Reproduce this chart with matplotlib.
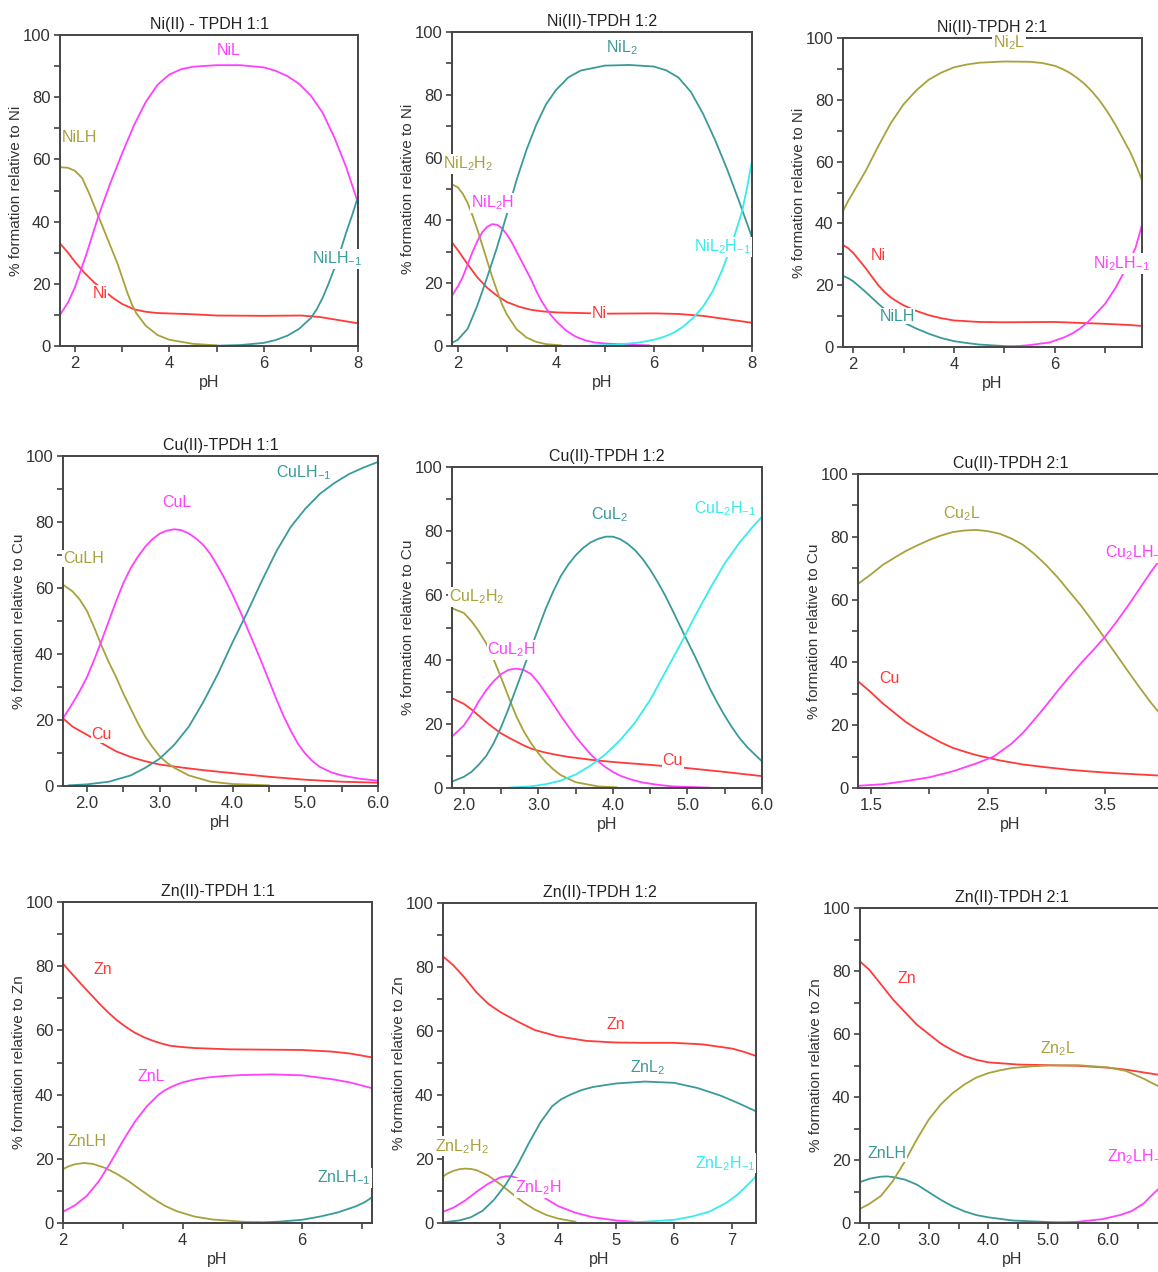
import matplotlib
matplotlib.use("Agg")
import matplotlib.pyplot as plt
from matplotlib.ticker import FixedLocator, FormatStrFormatter

plt.rcParams["font.family"] = ["Liberation Sans", "DejaVu Sans"]
plt.rcParams["mathtext.fontset"] = "custom"
plt.rcParams["mathtext.rm"] = "Liberation Sans"
plt.rcParams["mathtext.it"] = "Liberation Sans:italic"
plt.rcParams["mathtext.bf"] = "Liberation Sans:bold"

RED = "#ff3a3a"
MAGENTA = "#ff40ff"
OLIVE = "#a8a23c"
TEAL = "#3a9a9a"
CYAN = "#36ecec"

# ---- Ni(II)-TPDH 1:1 ----
NI11_NI_PH = [1.68, 1.85, 2.0, 2.2, 2.4, 2.6, 2.8, 3.0, 3.25, 3.5, 3.75, 4.5, 5.0, 6.0, 6.8, 7.2, 7.6, 8.0]
NI11_NI = [33, 30, 27, 23.5, 20.5, 18, 15.5, 13.5, 11.8, 11, 10.6, 10.2, 9.8, 9.7, 9.8, 9.3, 8.3, 7.3]
NI11_NIL_PH = [1.68, 1.85, 2.0, 2.25, 2.5, 2.75, 3.0, 3.25, 3.5, 3.75, 4.0, 4.25, 4.5, 5.0, 5.5, 6.0,
               6.25, 6.5, 6.75, 7.0, 7.25, 7.5, 7.75, 8.0]
NI11_NIL = [10, 14, 19, 30, 42, 52.5, 62, 71, 78.5, 84, 87.3, 89, 89.8, 90.3, 90.3, 89.6,
            88.5, 86.8, 84.3, 80.5, 75, 67, 57.5, 46]
NI11_NILH_PH = [1.68, 1.85, 2.0, 2.15, 2.3, 2.5, 2.7, 2.9, 3.0, 3.1, 3.2, 3.3, 3.5, 3.75, 4.0, 4.5, 5.0]
NI11_NILH = [57.5, 57.3, 56.3, 54, 49, 41.5, 34, 26.5, 22, 17.5, 13.5, 10.5, 6.5, 3.5, 2.0, 0.7, 0.2]
NI11_NILHM_PH = [4.9, 5.5, 6.0, 6.25, 6.5, 6.75, 7.0, 7.125, 7.25, 7.375, 7.5, 7.625, 7.75, 7.875, 8.0]
NI11_NILHM = [0.05, 0.3, 1.0, 1.9, 3.3, 5.5, 9, 11.8, 15.5, 20, 25, 30.5, 36.5, 42, 48]

# ---- Ni(II)-TPDH 1:2 ----
NI12_NI_PH = [1.88, 2.0, 2.2, 2.4, 2.6, 2.8, 3.0, 3.25, 3.5, 3.75, 4.0, 5.0, 6.0, 6.5, 7.0, 7.5, 8.0]
NI12_NI = [33, 30.5, 26, 21.8, 18.5, 16, 14, 12.5, 11.5, 11, 10.7, 10.3, 10.4, 10.2, 9.6, 8.5, 7.4]
NI12_NIL2_PH = [1.88, 2.0, 2.2, 2.4, 2.6, 2.8, 3.0, 3.2, 3.4, 3.6, 3.8, 4.0, 4.25, 4.5, 5.0, 5.5,
                6.0, 6.25, 6.5, 6.75, 7.0, 7.25, 7.5, 7.75, 8.0]
NI12_NIL2 = [1, 2, 5.5, 13, 22, 31.5, 42, 53, 62.5, 70.5, 77, 81.5, 85.5, 87.7, 89.3, 89.5,
             89, 87.8, 85.5, 81, 74, 65.5, 56, 45.5, 34.6]
NI12_NIL2H2_PH = [1.88, 2.0, 2.1, 2.2, 2.3, 2.4, 2.5, 2.6, 2.7, 2.8, 2.9, 3.0, 3.2, 3.4, 3.6, 3.8, 4.1]
NI12_NIL2H2 = [51.5, 50.5, 48.5, 45.5, 41.5, 37, 32, 27, 22, 17.5, 13.3, 10, 5.3, 2.7, 1.3, 0.6, 0.2]
NI12_NIL2H_PH = [1.88, 2.0, 2.1, 2.2, 2.3, 2.4, 2.5, 2.6, 2.7, 2.8, 2.9, 3.0, 3.1, 3.2, 3.3, 3.4,
                 3.5, 3.6, 3.7, 3.8, 3.9, 4.0, 4.2, 4.4, 4.6, 4.8, 5.0, 5.5, 5.9]
NI12_NIL2H = [16, 19, 22, 26, 30, 33.5, 36.3, 38, 38.8, 38.6, 37.5, 35.5, 33, 30, 27, 24,
              21, 17.5, 14.5, 12, 9.8, 8, 5, 3, 1.8, 1.1, 0.8, 0.4, 0.2]
NI12_NIL2HM_PH = [4.7, 5.2, 5.7, 6.0, 6.2, 6.4, 6.6, 6.8, 7.0, 7.2, 7.4, 7.6, 7.8, 7.9, 8.0]
NI12_NIL2HM = [0.1, 0.4, 1.1, 2, 2.9, 4.2, 6.2, 9, 12.5, 17.5, 24.5, 33, 43, 50.5, 59]

# ---- Ni(II)-TPDH 2:1 ----
NI21_NI_PH = [1.8, 1.9, 2.0, 2.125, 2.25, 2.375, 2.5, 2.625, 2.75, 2.875, 3.0, 3.25, 3.5, 3.75, 4.0,
              4.5, 5.0, 6.0, 6.5, 7.0, 7.5, 7.73]
NI21_NI = [33, 32, 30.5, 28, 25.5, 22.7, 20, 17.8, 16, 14.7, 13.5, 11.7, 10.3, 9.3, 8.6,
           8.1, 8.0, 8.1, 7.8, 7.5, 7.1, 6.8]
NI21_NI2L_PH = [1.8, 1.9, 2.0, 2.125, 2.25, 2.375, 2.5, 2.75, 3.0, 3.25, 3.5, 3.75, 4.0, 4.25, 4.5,
                5.0, 5.5, 5.75, 6.0, 6.15, 6.3, 6.45, 6.6, 6.75, 6.9, 7.05, 7.2, 7.35, 7.5, 7.62, 7.73]
NI21_NI2L = [44, 47.2, 50, 53.5, 57, 61, 65, 72.5, 78.5, 83, 86.5, 88.8, 90.5, 91.4, 92,
             92.4, 92.3, 91.9, 91, 90, 88.7, 87, 85, 82.5, 79.5, 76, 72, 67.5, 63, 58.5, 54]
NI21_NILH_PH = [1.8, 1.9, 2.0, 2.25, 2.5, 2.75, 3.0, 3.25, 3.5, 3.75, 4.0, 4.25, 4.5, 5.0, 5.3]
NI21_NILH = [23, 22.3, 21.3, 17.8, 14, 10.5, 8, 6, 4.3, 2.9, 1.9, 1.3, 0.8, 0.3, 0.1]
NI21_NI2LHM_PH = [5.1, 5.5, 5.9, 6.2, 6.35, 6.5, 6.65, 6.8, 7.0, 7.2, 7.4, 7.6, 7.73]
NI21_NI2LHM = [0.1, 0.6, 1.5, 3.2, 4.4, 6, 8, 10.5, 14, 19, 25, 32, 39.5]

# ---- Cu(II)-TPDH 1:1 ----
CU11_CU_PH = [1.67, 1.8, 2.0, 2.2, 2.4, 2.6, 2.8, 3.0, 3.3, 3.6, 4.0, 4.5, 5.0, 5.5, 6.0]
CU11_CU = [20.5, 18, 15.5, 13, 10.5, 8.8, 7.5, 6.5, 5.6, 4.8, 3.9, 2.8, 1.9, 1.3, 1.0]
CU11_CUL_PH = [1.67, 1.8, 1.9, 2.0, 2.1, 2.2, 2.3, 2.4, 2.5, 2.6, 2.7, 2.8, 2.9, 3.0, 3.1, 3.2, 3.3,
               3.4, 3.5, 3.6, 3.7, 3.8, 3.9, 4.0, 4.1, 4.2, 4.3, 4.4, 4.5, 4.6, 4.7, 4.8, 4.9, 5.0,
               5.1, 5.2, 5.35, 5.5, 5.75, 6.0]
CU11_CUL = [20.5, 25, 28.8, 33, 38.3, 44, 50, 56, 61.5, 66, 69.5, 72.5, 74.8, 76.5, 77.4, 77.8, 77.5,
            76.5, 75, 73, 70.2, 66.5, 62.5, 58, 53.2, 48, 42.8, 37.5, 32, 26.5, 21.3, 16.8, 12.8, 9.8,
            7.5, 5.8, 4.2, 3.2, 2.2, 1.6]
CU11_CULH_PH = [1.67, 1.8, 1.9, 2.0, 2.1, 2.2, 2.3, 2.4, 2.5, 2.6, 2.7, 2.8, 2.9, 3.0, 3.1, 3.2, 3.4,
                3.7, 4.0, 4.5]
CU11_CULH = [61, 59, 56.5, 53, 48, 42.5, 37.5, 33, 28, 23.5, 19, 15, 11.8, 9, 7, 5.5, 3.2,
             1.3, 0.6, 0.2]
CU11_CULHM_PH = [1.75, 2.0, 2.3, 2.6, 2.8, 3.0, 3.2, 3.4, 3.6, 3.8, 4.0, 4.2, 4.4, 4.6, 4.8, 5.0,
                 5.2, 5.4, 5.6, 5.8, 6.0]
CU11_CULHM = [0.2, 0.5, 1.3, 3.2, 5.5, 8.3, 12.5, 18, 25.5, 34, 43.5, 52.5, 62, 71, 78.5, 84,
              88.5, 91.8, 94.5, 96.5, 98.2]

# ---- Cu(II)-TPDH 1:2 ----
CU12_CU_PH = [1.84, 2.0, 2.1, 2.2, 2.3, 2.4, 2.5, 2.6, 2.7, 2.8, 2.9, 3.0, 3.1, 3.25, 3.4, 3.7,
              4.0, 4.5, 5.0, 5.5, 6.0]
CU12_CU = [28, 26.2, 24.5, 22.5, 20.5, 18.7, 17, 15.7, 14.5, 13.3, 12.3, 11.6, 11, 10.3, 9.7, 8.8,
           8.1, 7.2, 6.2, 5, 3.7]
CU12_CUL2_PH = [1.84, 2.0, 2.1, 2.2, 2.3, 2.4, 2.5, 2.6, 2.7, 2.8, 2.9, 3.0, 3.1, 3.2, 3.3, 3.4, 3.5,
                3.6, 3.7, 3.8, 3.9, 4.0, 4.1, 4.2, 4.3, 4.4, 4.5, 4.6, 4.7, 4.8, 4.9, 5.0, 5.1, 5.2,
                5.3, 5.4, 5.5, 5.6, 5.7, 5.8, 5.9, 6.0]
CU12_CUL2 = [2, 3.5, 5, 7.3, 10, 14, 19, 24.8, 31, 37.3, 43.5, 49.8, 56, 61.3, 66, 69.6, 72.5,
             74.8, 76.5, 77.6, 78.3, 78.3, 77.5, 76, 74, 71.3, 68, 64.2, 60, 55.3, 50.5, 45.7, 41, 36,
             31, 26.6, 22.5, 18.8, 15.5, 12.8, 10.5, 8.3]
CU12_CUL2H2_PH = [1.84, 2.0, 2.1, 2.2, 2.3, 2.4, 2.5, 2.6, 2.7, 2.8, 2.9, 3.0, 3.1, 3.2, 3.3, 3.5,
                  3.8, 4.05]
CU12_CUL2H2 = [56, 54.5, 52, 48.8, 45, 40, 34.3, 28.3, 22.5, 17.8, 14, 10.8, 8, 5.8, 4, 1.8,
               0.5, 0.2]
CU12_CUL2H_PH = [1.84, 2.0, 2.1, 2.2, 2.3, 2.4, 2.5, 2.6, 2.7, 2.8, 2.9, 3.0, 3.1, 3.2, 3.3, 3.4,
                 3.5, 3.6, 3.7, 3.8, 3.9, 4.0, 4.1, 4.25, 4.4, 4.6, 4.8, 5.3]
CU12_CUL2H = [16, 19.5, 23, 27, 30.5, 33.3, 35.5, 36.8, 37.2, 36.8, 35.5, 32.8, 29.5, 26, 22.5,
              19.2, 16, 13.2, 10.5, 8.3, 6.5, 5, 3.8, 2.6, 1.7, 1, 0.5, 0.1]
CU12_CUL2HM_PH = [2.6, 2.9, 3.1, 3.3, 3.5, 3.7, 3.9, 4.1, 4.3, 4.5, 4.7, 4.9, 5.1, 5.3, 5.5, 5.7,
                  5.9, 6.0]
CU12_CUL2HM = [0.1, 0.5, 1.2, 2.3, 4.2, 7, 10.5, 15, 20.5, 27.5, 36, 44.5, 53.5, 62, 70, 76.5,
               82, 84.5]

# ---- Cu(II)-TPDH 2:1 ----
CU21_CU_PH = [1.39, 1.5, 1.6, 1.7, 1.8, 1.9, 2.0, 2.1, 2.2, 2.3, 2.4, 2.6, 2.8, 3.0, 3.2, 3.4,
              3.6, 3.8, 4.0]
CU21_CU = [34, 30.5, 27, 24, 21, 18.6, 16.5, 14.5, 12.8, 11.6, 10.5, 8.8, 7.5, 6.6, 5.8, 5.2,
           4.7, 4.3, 3.9]
CU21_CU2L_PH = [1.39, 1.5, 1.6, 1.7, 1.8, 1.9, 2.0, 2.1, 2.2, 2.3, 2.4, 2.5, 2.6, 2.7, 2.8, 2.9,
                3.0, 3.1, 3.2, 3.3, 3.4, 3.5, 3.6, 3.7, 3.8, 3.9, 4.0]
CU21_CU2L = [65, 68, 71, 73.3, 75.5, 77.3, 79, 80.4, 81.5, 82, 82.2, 81.8, 81, 79.5, 77.5, 74.5,
             71, 67, 62.5, 58, 53, 47.8, 42.5, 37.2, 32, 27, 22.5]
CU21_CU2LHM_PH = [1.39, 1.6, 1.8, 2.0, 2.2, 2.4, 2.55, 2.7, 2.8, 2.9, 3.0, 3.1, 3.2, 3.3, 3.4,
                  3.5, 3.6, 3.7, 3.8, 3.9, 4.0]
CU21_CU2LHM = [0.7, 1.2, 2.2, 3.4, 5.3, 7.8, 10, 14, 17.5, 21.8, 26.3, 31, 35.5, 39.8, 43.8,
               48, 52.8, 58, 63.5, 69, 74]

# ---- Zn(II)-TPDH 1:1 ----
ZN11_ZN_PH = [2.0, 2.15, 2.3, 2.45, 2.6, 2.75, 2.9, 3.05, 3.2, 3.35, 3.5, 3.65, 3.8, 4.0, 4.2, 4.8,
              5.4, 6.0, 6.5, 6.8, 7.17]
ZN11_ZN = [80.8, 77.6, 74.5, 71.5, 68.5, 65.7, 63.2, 61.1, 59.3, 57.9, 56.8, 55.9, 55.2, 54.8,
           54.5, 54.1, 54, 53.9, 53.4, 52.8, 51.6]
ZN11_ZNL_PH = [2.0, 2.2, 2.4, 2.6, 2.8, 3.0, 3.2, 3.4, 3.6, 3.7, 3.8, 3.9, 4.0, 4.2, 4.4, 4.7, 5.0,
               5.5, 6.0, 6.5, 6.8, 7.17]
ZN11_ZNL = [3.5, 5.5, 8.5, 13, 19, 25.5, 31.5, 36.3, 40, 41.3, 42.3, 43.1, 43.8, 44.7, 45.3, 45.8,
            46.1, 46.3, 46, 44.8, 43.8, 42]
ZN11_ZNLH_PH = [2.0, 2.1, 2.2, 2.35, 2.5, 2.7, 2.9, 3.1, 3.3, 3.5, 3.7, 3.9, 4.2, 4.5, 5.0, 5.3]
ZN11_ZNLH = [16.8, 17.7, 18.3, 18.7, 18.4, 17.2, 15.3, 13, 10.3, 7.7, 5.4, 3.7, 2, 1.1, 0.4, 0.2]
ZN11_ZNLHM_PH = [5.2, 5.6, 6.0, 6.3, 6.6, 6.9, 7.05, 7.17]
ZN11_ZNLHM = [0.1, 0.4, 1, 2, 3.3, 5.2, 6.5, 8]

# ---- Zn(II)-TPDH 1:2 ----
ZN12_ZN_PH = [2.02, 2.2, 2.4, 2.6, 2.8, 3.0, 3.3, 3.6, 4.0, 4.5, 5.0, 5.5, 6.0, 6.5, 7.0, 7.2, 7.41]
ZN12_ZN = [83.3, 80.5, 76.5, 72, 68.5, 66, 63, 60.3, 58.3, 56.9, 56.4, 56.3, 56.3, 55.8, 54.5,
           53.5, 52.2]
ZN12_ZNL2_PH = [2.02, 2.3, 2.5, 2.7, 2.9, 3.1, 3.3, 3.5, 3.7, 3.9, 4.05, 4.2, 4.4, 4.6, 5.0, 5.5,
                6.0, 6.4, 6.8, 7.1, 7.41]
ZN12_ZNL2 = [0.2, 0.8, 1.8, 3.8, 7.3, 12, 18, 25, 31.5, 36.5, 38.6, 40, 41.5, 42.5, 43.6, 44.2,
             43.8, 42.2, 39.8, 37.5, 34.9]
ZN12_ZNL2H2_PH = [2.02, 2.1, 2.2, 2.3, 2.4, 2.5, 2.6, 2.8, 3.0, 3.2, 3.4, 3.6, 3.8, 4.0, 4.3]
ZN12_ZNL2H2 = [14.5, 15.5, 16.3, 16.8, 17, 16.9, 16.5, 14.8, 12.2, 9.3, 6.5, 4.2, 2.5, 1.4, 0.4]
ZN12_ZNL2H_PH = [2.02, 2.2, 2.4, 2.6, 2.8, 3.0, 3.1, 3.2, 3.3, 3.4, 3.6, 3.8, 4.0, 4.3, 4.6, 5.0, 5.3]
ZN12_ZNL2H = [3.5, 4.8, 7, 9.8, 12.3, 14.2, 14.6, 14.6, 14, 13, 10.3, 7.5, 5.3, 3.2, 1.8, 0.8, 0.4]
ZN12_ZNL2HM_PH = [5.0, 5.5, 6.0, 6.3, 6.6, 6.9, 7.1, 7.3, 7.41]
ZN12_ZNL2HM = [0.1, 0.4, 1, 2, 3.5, 6.3, 9, 12.5, 14.6]

# ---- Zn(II)-TPDH 2:1 ----
ZN21_ZN_PH = [1.85, 2.0, 2.2, 2.4, 2.6, 2.8, 3.0, 3.2, 3.4, 3.6, 3.8, 4.0, 4.5, 5.0, 5.5, 6.0,
              6.3, 6.6, 6.94]
ZN21_ZN = [83, 80.5, 75.8, 71, 67, 63, 60, 57, 54.8, 53, 51.8, 51, 50.3, 50.1, 49.9, 49.3,
           48.7, 47.8, 46.8]
ZN21_ZN2L_PH = [1.85, 2.0, 2.2, 2.4, 2.6, 2.8, 3.0, 3.2, 3.4, 3.6, 3.8, 4.0, 4.2, 4.4, 4.7, 5.0,
                5.5, 6.0, 6.3, 6.6, 6.94]
ZN21_ZN2L = [4.5, 6, 8.6, 13.3, 19.5, 26.5, 32.8, 37.6, 41.2, 44, 46.2, 47.6, 48.5, 49.2, 49.7,
             50, 50.1, 49.4, 48.3, 45.8, 42.5]
ZN21_ZNLH_PH = [1.85, 2.0, 2.1, 2.2, 2.3, 2.4, 2.6, 2.8, 3.0, 3.2, 3.4, 3.6, 3.8, 4.0, 4.4, 5.0, 5.3]
ZN21_ZNLH = [13, 14, 14.4, 14.7, 14.8, 14.6, 13.8, 12.2, 9.8, 7.4, 5.3, 3.7, 2.5, 1.8, 0.8, 0.3, 0.1]
ZN21_ZN2LHM_PH = [5.1, 5.5, 5.9, 6.2, 6.4, 6.6, 6.8, 6.94]
ZN21_ZN2LHM = [0.1, 0.4, 1.2, 2.5, 3.8, 6.2, 10, 12.5]

W, H = 1158, 1272
SUB_M1 = r"$_{\mathrm{-1}}$"

panels = [
    dict(title="Ni(II) - TPDH 1:1", metal="Ni", box=(60, 35, 358, 346), xlim=(1.68, 8.0),
         ticks=[2, 4, 6, 8], minor=[3, 5, 7], fmt="%d",
         curves=[(NI11_NI_PH, NI11_NI, RED), (NI11_NILH_PH, NI11_NILH, OLIVE),
                 (NI11_NIL_PH, NI11_NIL, MAGENTA), (NI11_NILHM_PH, NI11_NILHM, TEAL)],
         labels=[("NiL", 5.25, 95, MAGENTA, "center"), ("NiLH", 2.1, 67, OLIVE, "center"),
                 ("Ni", 2.53, 17, RED, "center"), ("NiLH" + SUB_M1, 7.55, 28, TEAL, "center")]),
    dict(title="Ni(II)-TPDH 1:2", metal="Ni", box=(452, 32, 752, 346), xlim=(1.88, 8.0),
         ticks=[2, 4, 6, 8], minor=[3, 5, 7], fmt="%d",
         curves=[(NI12_NI_PH, NI12_NI, RED), (NI12_NIL2H2_PH, NI12_NIL2H2, OLIVE),
                 (NI12_NIL2H_PH, NI12_NIL2H, MAGENTA), (NI12_NIL2_PH, NI12_NIL2, TEAL),
                 (NI12_NIL2HM_PH, NI12_NIL2HM, CYAN)],
         labels=[("NiL$_2$", 5.35, 95, TEAL, "center"), ("NiL$_2$H$_2$", 2.2, 58, OLIVE, "center"),
                 ("NiL$_2$H", 2.7, 45.5, MAGENTA, "center"),
                 ("NiL$_2$H" + SUB_M1, 7.4, 31.5, CYAN, "center"),
                 ("Ni", 4.88, 10.5, RED, "center")]),
    dict(title="Ni(II)-TPDH 2:1", metal="Ni", box=(843, 38, 1142, 347), xlim=(1.8, 7.73),
         ticks=[2, 4, 6], minor=[3, 5, 7], fmt="%d",
         curves=[(NI21_NI_PH, NI21_NI, RED), (NI21_NILH_PH, NI21_NILH, TEAL),
                 (NI21_NI2L_PH, NI21_NI2L, OLIVE), (NI21_NI2LHM_PH, NI21_NI2LHM, MAGENTA)],
         labels=[("Ni$_2$L", 5.1, 98.5, OLIVE, "center"), ("Ni", 2.5, 29.5, RED, "center"),
                 ("NiLH", 2.87, 10, TEAL, "center"),
                 ("Ni$_2$LH" + SUB_M1, 7.33, 27, MAGENTA, "center")]),
    dict(title="Cu(II)-TPDH 1:1", metal="Cu", box=(63, 456, 378, 786), xlim=(1.67, 6.0),
         ticks=[2, 3, 4, 5, 6], minor=[2.5, 3.5, 4.5, 5.5], fmt="%.1f",
         curves=[(CU11_CU_PH, CU11_CU, RED), (CU11_CULH_PH, CU11_CULH, OLIVE),
                 (CU11_CUL_PH, CU11_CUL, MAGENTA), (CU11_CULHM_PH, CU11_CULHM, TEAL)],
         labels=[("CuL", 3.23, 86, MAGENTA, "center"), ("CuLH", 1.95, 69, OLIVE, "center"),
                 ("Cu", 2.2, 15.5, RED, "center"), ("CuLH" + SUB_M1, 4.98, 95, TEAL, "center")]),
    dict(title="Cu(II)-TPDH 1:2", metal="Cu", box=(452, 467, 762, 788), xlim=(1.84, 6.0),
         ticks=[2, 3, 4, 5, 6], minor=[2.5, 3.5, 4.5, 5.5], fmt="%.1f",
         curves=[(CU12_CU_PH, CU12_CU, RED), (CU12_CUL2H2_PH, CU12_CUL2H2, OLIVE),
                 (CU12_CUL2H_PH, CU12_CUL2H, MAGENTA), (CU12_CUL2_PH, CU12_CUL2, TEAL),
                 (CU12_CUL2HM_PH, CU12_CUL2HM, CYAN)],
         labels=[("CuL$_2$", 3.95, 85, TEAL, "center"), ("CuL$_2$H$_2$", 2.17, 59.5, OLIVE, "center"),
                 ("CuL$_2$H", 2.64, 43, MAGENTA, "center"),
                 ("CuL$_2$H" + SUB_M1, 5.5, 87, CYAN, "center"),
                 ("Cu", 4.8, 8.5, RED, "center")]),
    dict(title="Cu(II)-TPDH 2:1", metal="Cu", box=(858, 474, 1163, 788), xlim=(1.39, 4.0),
         ticks=[1.5, 2.5, 3.5], minor=[2.0, 3.0], fmt="%.1f",
         curves=[(CU21_CU_PH, CU21_CU, RED), (CU21_CU2L_PH, CU21_CU2L, OLIVE),
                 (CU21_CU2LHM_PH, CU21_CU2LHM, MAGENTA)],
         labels=[("Cu$_2$L", 2.28, 87.5, OLIVE, "center"), ("Cu", 1.66, 35, RED, "center"),
                 ("Cu$_2$LH" + SUB_M1, 3.5, 75, MAGENTA, "left")]),
    dict(title="Zn(II)-TPDH 1:1", metal="Zn", box=(63, 902, 372, 1223), xlim=(2.0, 7.17),
         ticks=[2, 4, 6], minor=[3, 5, 7], fmt="%d",
         curves=[(ZN11_ZN_PH, ZN11_ZN, RED), (ZN11_ZNLH_PH, ZN11_ZNLH, OLIVE),
                 (ZN11_ZNL_PH, ZN11_ZNL, MAGENTA), (ZN11_ZNLHM_PH, ZN11_ZNLHM, TEAL)],
         labels=[("Zn", 2.67, 79, RED, "center"), ("ZnL", 3.48, 45.5, MAGENTA, "center"),
                 ("ZnLH", 2.4, 25.4, OLIVE, "center"), ("ZnLH" + SUB_M1, 6.7, 14, TEAL, "center")]),
    dict(title="Zn(II)-TPDH 1:2", metal="Zn", box=(443, 903, 756, 1223), xlim=(2.02, 7.41),
         ticks=[3, 4, 5, 6, 7], minor=[], fmt="%d",
         curves=[(ZN12_ZN_PH, ZN12_ZN, RED), (ZN12_ZNL2H2_PH, ZN12_ZNL2H2, OLIVE),
                 (ZN12_ZNL2H_PH, ZN12_ZNL2H, MAGENTA), (ZN12_ZNL2_PH, ZN12_ZNL2, TEAL),
                 (ZN12_ZNL2HM_PH, ZN12_ZNL2HM, CYAN)],
         labels=[("Zn", 5.0, 62, RED, "center"), ("ZnL$_2$", 5.55, 48.4, TEAL, "center"),
                 ("ZnL$_2$H$_2$", 2.34, 24, OLIVE, "center"), ("ZnL$_2$H", 3.66, 11, MAGENTA, "center"),
                 ("ZnL$_2$H" + SUB_M1, 6.88, 18.7, CYAN, "center")]),
    dict(title="Zn(II)-TPDH 2:1", metal="Zn", box=(860, 908, 1164, 1223), xlim=(1.85, 6.94),
         ticks=[2, 3, 4, 5, 6], minor=[2.5, 3.5, 4.5, 5.5, 6.5], fmt="%.1f",
         curves=[(ZN21_ZN_PH, ZN21_ZN, RED), (ZN21_ZNLH_PH, ZN21_ZNLH, TEAL),
                 (ZN21_ZN2L_PH, ZN21_ZN2L, OLIVE), (ZN21_ZN2LHM_PH, ZN21_ZN2LHM, MAGENTA)],
         labels=[("Zn", 2.63, 77.7, RED, "center"), ("Zn$_2$L", 5.17, 55.5, OLIVE, "center"),
                 ("ZnLH", 2.3, 22, TEAL, "center"),
                 ("Zn$_2$LH" + SUB_M1, 5.98, 21, MAGENTA, "left")]),
]

FS = 11.5
fig = plt.figure(figsize=(W / 100, H / 100), dpi=100)

for p in panels:
    l, t, r, b = p["box"]
    ax = fig.add_axes([l / W, 1 - b / H, (r - l) / W, (b - t) / H])
    for xs, ys, c in p["curves"]:
        ax.plot(xs, ys, color=c, lw=1.3, solid_joinstyle="round")
    for txt, x, y, c, ha in p["labels"]:
        ax.text(x, y, txt, color=c, fontsize=FS, ha=ha, va="center", zorder=4,
                clip_on=False,
                bbox=dict(boxstyle="square,pad=0.05", fc="white", ec="none"))
    ax.set_xlim(*p["xlim"])
    ax.set_ylim(0, 100)
    ax.xaxis.set_major_locator(FixedLocator(p["ticks"]))
    ax.xaxis.set_minor_locator(FixedLocator(p["minor"]))
    ax.xaxis.set_major_formatter(FormatStrFormatter(p["fmt"]))
    ax.yaxis.set_major_locator(FixedLocator([0, 20, 40, 60, 80, 100]))
    ax.yaxis.set_minor_locator(FixedLocator([10, 30, 50, 70, 90]))
    ax.tick_params(which="both", direction="out", length=4, width=1.1, color="#333333",
                   labelsize=12, labelcolor="#333333", pad=3)
    for s in ax.spines.values():
        s.set_color("#444444")
        s.set_linewidth(1.4)
    ax.set_xlabel("pH", fontsize=FS, labelpad=3, color="#333333")
    ax.set_ylabel("% formation relative to " + p["metal"], fontsize=11, labelpad=0, color="#333333")
    ax.set_title(p["title"], fontsize=FS, pad=4, color="#222222")

fig.savefig("out.png", dpi=100, facecolor="white")
